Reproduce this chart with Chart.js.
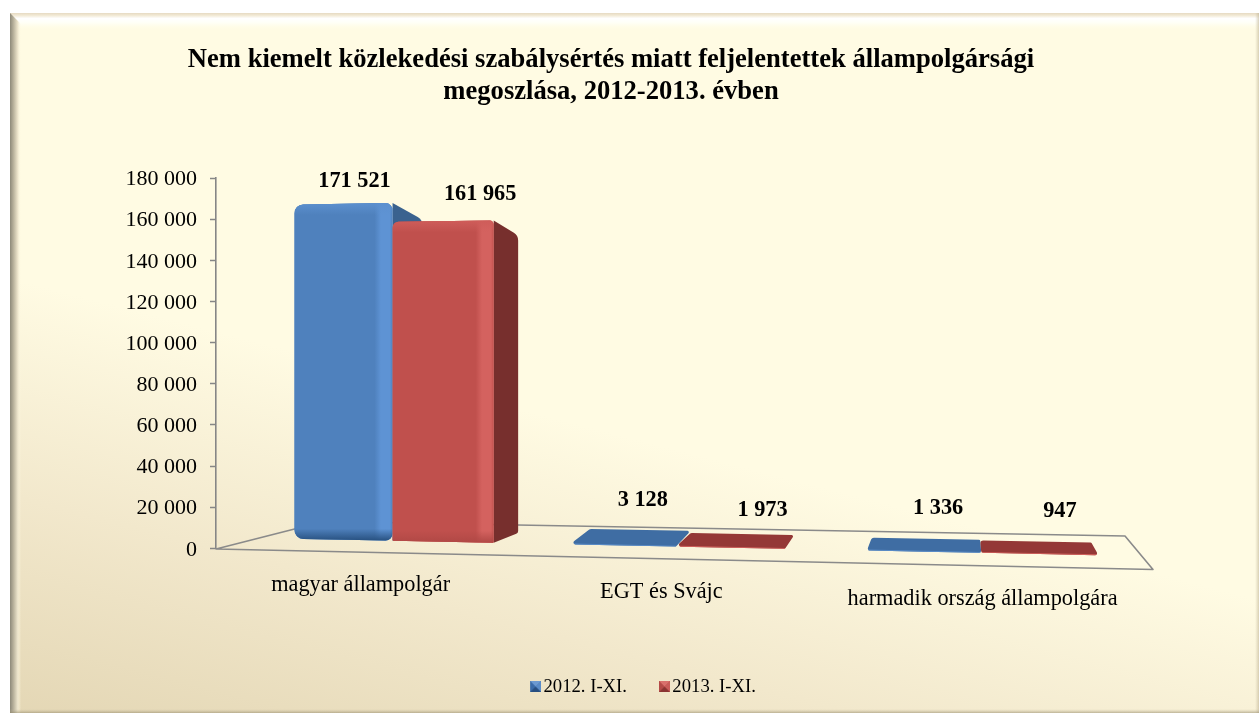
<!DOCTYPE html>
<html><head><meta charset="utf-8">
<style>html,body{margin:0;padding:0;background:#fff}canvas{display:block}</style>
<script src="https://cdn.jsdelivr.net/npm/chart.js@4"></script>
</head><body><canvas id="c" width="1259" height="713"></canvas>
<script>
const categories = ['magyar állampolgár', 'EGT és Svájc', 'harmadik ország állampolgára'];
const seriesNames = ['2012. I-XI.', '2013. I-XI.'];
const values2012 = [171521, 3128, 1336];
const values2013 = [161965, 1973, 947];
const titleLines = ['Nem kiemelt közlekedési szabálysértés miatt feljelentettek állampolgársági', 'megoszlása, 2012-2013. évben'];

const SERIF = '"Liberation Serif","Times New Roman",serif';
const fmt = v => String(v).replace(/\B(?=(\d{3})+$)/g, ' ');

/* perspective floor of the 3D plot */
const FLOOR = {fl:[216,549], fr:[1153,569.5], bl:[324,521.5], br:[1125,536]};
const V_FRONT = 0.4, V_BACK = 0.74;
const persp = t => 0.888*t + 0.1125*t*t;
const lerp = (a,b,t) => a+(b-a)*t;
function floorPt(u,v){
  const fx=lerp(FLOOR.fl[0],FLOOR.fr[0],u), fy=lerp(FLOOR.fl[1],FLOOR.fr[1],u);
  const bx=lerp(FLOOR.bl[0],FLOOR.br[0],u), by=lerp(FLOOR.bl[1],FLOOR.br[1],u);
  return [lerp(fx,bx,v), lerp(fy,by,v)];
}
const heightK = (u,v) => 0.945 + 0.09*u - 0.22*(v-0.4);

function roundedPoly(ctx, pts, radii){
  const n=pts.length;
  ctx.beginPath();
  ctx.moveTo((pts[n-1][0]+pts[0][0])/2,(pts[n-1][1]+pts[0][1])/2);
  for(let i=0;i<n;i++){
    const p=pts[i], q=pts[(i+1)%n], r=Array.isArray(radii)?radii[i]:radii;
    ctx.arcTo(p[0],p[1],q[0],q[1],r);
  }
  ctx.closePath();
}

const STYLE = [
 {base:'#4F81BD',band:'#5E93D4',top:'#5C90CF',bot:'#27507F',side:'#3A628F',roof:'#3F6DA3',rad:[9,7,7,9],lip:'#5A8CC8'},
 {base:'#C0504D',band:'#D4625F',top:'#CF5D5A',bot:'#B04845',side:'#772F2D',roof:'#943836',rad:[6,4,1,1],lip:'#D0605C'}
];
/* label nudges relative to the top-front centre of each bar [series][category] */
const NUDGE = [[[11,-23],[20,-39],[14,-41]],[[37,-27],[32,-34],[20,-41]]];
const CAT_NUDGE = [3,3,0];

const bars3d = {
  id:'bars3d',
  beforeDatasetsDraw(chart){
    const ctx=chart.ctx, ca=chart.chartArea;
    const tOf = px => (px-ca.left)/(ca.right-ca.left);
    const labels=[];
    categories.forEach((_,ci)=>{
      chart.data.datasets.forEach((ds,si)=>{
        const el=chart.getDatasetMeta(si).data[ci], st=STYLE[si];
        const u0=persp(tOf(el.x-el.width/2)), u1=persp(tOf(el.x+el.width/2));
        const h=el.base-el.y;
        const mk=(u,v)=>{const p=floorPt(u,v);return {b:p,t:[p[0],p[1]-h*heightK(u,v)]};};
        const fl=mk(u0,V_FRONT), fr=mk(u1,V_FRONT), bl=mk(u0,V_BACK), br=mk(u1,V_BACK);
        ctx.save();
        if(h>30){
          roundedPoly(ctx,[fr.t,br.t,br.b,fr.b],[0,9,3,0]);
          ctx.fillStyle=st.side; ctx.fill();
          roundedPoly(ctx,[fl.t,fr.t,fr.b,fl.b],st.rad);
          ctx.fillStyle=st.base; ctx.fill();
          ctx.clip();
          const x0=fl.t[0], x1=fr.t[0];
          let g=ctx.createLinearGradient(x1-18,0,x1,0);
          g.addColorStop(0,st.base); g.addColorStop(.35,st.band); g.addColorStop(.85,st.band); g.addColorStop(1,st.base);
          ctx.fillStyle=g; ctx.fillRect(x0,fl.t[1]-20,x1-x0,h+60);
          const ty=Math.min(fl.t[1],fr.t[1]);
          g=ctx.createLinearGradient(0,ty,0,ty+12);
          g.addColorStop(0,st.top); g.addColorStop(1,st.top+'00');
          ctx.fillStyle=g; ctx.fillRect(x0,ty-4,x1-x0,20);
          const by=Math.max(fl.b[1],fr.b[1]);
          g=ctx.createLinearGradient(0,by-12,0,by);
          g.addColorStop(0,st.bot+'00'); g.addColorStop(1,st.bot);
          ctx.fillStyle=g; ctx.fillRect(x0,by-14,x1-x0,16);
        } else {
          /* a nearly flat bar: its silhouette, seen from above, with a bright lower lip */
          roundedPoly(ctx,[fl.b,bl.t,br.t,fr.b],[2,3,1.5,2]);
          ctx.fillStyle=st.roof; ctx.fill();
          ctx.clip();
          ctx.strokeStyle=st.lip; ctx.lineWidth=2.2;
          ctx.beginPath(); ctx.moveTo(fl.b[0],fl.b[1]+.2); ctx.lineTo(fr.b[0],fr.b[1]+.2); ctx.stroke();
        }
        ctx.restore();
        const n=NUDGE[si][ci];
        labels.push({text:fmt(ds.data[ci]),x:(fl.t[0]+fr.t[0])/2+n[0],y:(fl.t[1]+fr.t[1])/2+n[1]});
      });
    });
    ctx.save();
    ctx.font='bold 22.3px '+SERIF; ctx.fillStyle='#000'; ctx.textAlign='center'; ctx.textBaseline='middle';
    labels.forEach(l=>ctx.fillText(l.text,l.x,l.y));
    ctx.restore();
    return false;
  }
};

const scene = {
  id:'scene',
  beforeDraw(chart){
    const ctx=chart.ctx, W=chart.width, H=chart.height, L=10, T=13;
    ctx.save();
    ctx.fillStyle='#fff'; ctx.fillRect(0,0,W,H);
    let g=ctx.createLinearGradient(10,713,115,305);
    g.addColorStop(0,'#E4D7B5'); g.addColorStop(.5,'#F2E8CC'); g.addColorStop(1,'#FFFBE3');
    ctx.fillStyle=g; ctx.fillRect(L,T,W-L,H-T);
    g=ctx.createLinearGradient(0,T,0,T+18);
    g.addColorStop(0,'#E6DAC2'); g.addColorStop(.14,'#F2EAD6'); g.addColorStop(.3,'#FFFFFF'); g.addColorStop(.55,'#FFFFF6'); g.addColorStop(1,'rgba(255,251,227,0)');
    ctx.fillStyle=g; ctx.fillRect(L,T,W-L,18);
    g=ctx.createLinearGradient(L,0,L+11,0);
    g.addColorStop(0,'#8D8979'); g.addColorStop(.35,'#BDB6A0'); g.addColorStop(.7,'#EDE5CC'); g.addColorStop(1,'rgba(255,250,226,0)');
    ctx.fillStyle=g;
    ctx.beginPath(); ctx.moveTo(L,T); ctx.lineTo(L+11,T+11); ctx.lineTo(L+11,H); ctx.lineTo(L,H); ctx.closePath(); ctx.fill();
    g=ctx.createLinearGradient(W-4,0,W,0);
    g.addColorStop(0,'rgba(200,190,160,0)'); g.addColorStop(1,'rgba(190,178,148,.6)');
    ctx.fillStyle=g; ctx.fillRect(W-4,T,4,H-T);
    g=ctx.createLinearGradient(0,H-4,0,H);
    g.addColorStop(0,'rgba(200,190,160,0)'); g.addColorStop(1,'rgba(150,140,110,.6)');
    ctx.fillStyle=g; ctx.fillRect(L,H-4,W-L,4);
    ctx.strokeStyle='#8A8A8A'; ctx.lineWidth=1.6; ctx.lineJoin='round';
    ctx.beginPath();
    ctx.moveTo(...FLOOR.fl); ctx.lineTo(...FLOOR.fr); ctx.lineTo(...FLOOR.br); ctx.lineTo(...FLOOR.bl); ctx.closePath(); ctx.stroke();
    ctx.restore();
  },
  afterLayout(chart){
    chart.titleBlock.left=0; chart.titleBlock.right=1222;
  },
  afterDraw(chart){
    const ctx=chart.ctx, ca=chart.chartArea;
    const metaA=chart.getDatasetMeta(0).data;
    ctx.save();
    ctx.font='22.3px '+SERIF; ctx.fillStyle='#000'; ctx.textAlign='center'; ctx.textBaseline='middle';
    categories.forEach((c,i)=>{
      const x=(metaA[i].x+metaA[i].width/2-ca.left)/(ca.right-ca.left);
      const p=floorPt(persp(x),0);
      ctx.fillText(c,p[0]+CAT_NUDGE[i],p[1]+33);
    });
    ctx.restore();
  }
};

function swatch(light,mid,dark,edge){
  const s=document.createElement('canvas'); s.width=15; s.height=11;
  const x=s.getContext('2d');
  x.translate(4,0);
  const tri=(c,a,b)=>{x.fillStyle=c;x.beginPath();x.moveTo(5.5,5.5);x.lineTo(...a);x.lineTo(...b);x.closePath();x.fill();};
  x.fillStyle=mid;x.fillRect(0,0,11,11);
  tri(light,[0,0],[11,0]); tri(mid,[0,0],[0,11]); tri(edge,[11,0],[11,11]); tri(dark,[0,11],[11,11]);
  return s;
}
const swatches=[swatch('#6C9AD2','#3A6BA8','#274E80','#5A8CC8'),swatch('#D9706C','#B44A47','#8A3432','#C95C59')];

new Chart(document.getElementById('c'),{
  type:'bar',
  data:{labels:categories,datasets:[
    {label:seriesNames[0],data:values2012,backgroundColor:'#4F81BD',categoryPercentage:.732,barPercentage:1},
    {label:seriesNames[1],data:values2013,backgroundColor:'#C0504D',categoryPercentage:.732,barPercentage:1}
  ]},
  plugins:[scene,bars3d],
  options:{
    responsive:false,animation:false,
    layout:{padding:{left:30,right:0,top:0,bottom:7}},
    plugins:{
      tooltip:{enabled:false},
      title:{display:true,text:titleLines,color:'#000',font:{family:SERIF,size:26.6,weight:'bold',lineHeight:1.17},padding:{top:45,bottom:70.8}},
      legend:{position:'bottom',labels:{
        color:'#000',font:{family:SERIF,size:18.7},padding:35,usePointStyle:true,boxWidth:1,boxHeight:11,
        generateLabels(chart){
          return Chart.defaults.plugins.legend.labels.generateLabels(chart).map((it,i)=>Object.assign(it,{pointStyle:swatches[i]}));
        }
      }}
    },
    scales:{
      x:{display:true,grid:{display:false},border:{display:false},ticks:{display:false},
         afterFit(s){s.height=94;}},
      y:{min:0,max:180000,
         grid:{drawOnChartArea:false,drawTicks:true,tickLength:6,tickColor:'#868686',tickWidth:1.5},
         border:{display:true,color:'#868686',width:1.6},
         ticks:{stepSize:20000,padding:13,labelOffset:1.5,color:'#000',font:{family:SERIF,size:22},callback:v=>fmt(v)},
         afterFit(s){s.width=186;}}
    }
  }
});
</script></body></html>
